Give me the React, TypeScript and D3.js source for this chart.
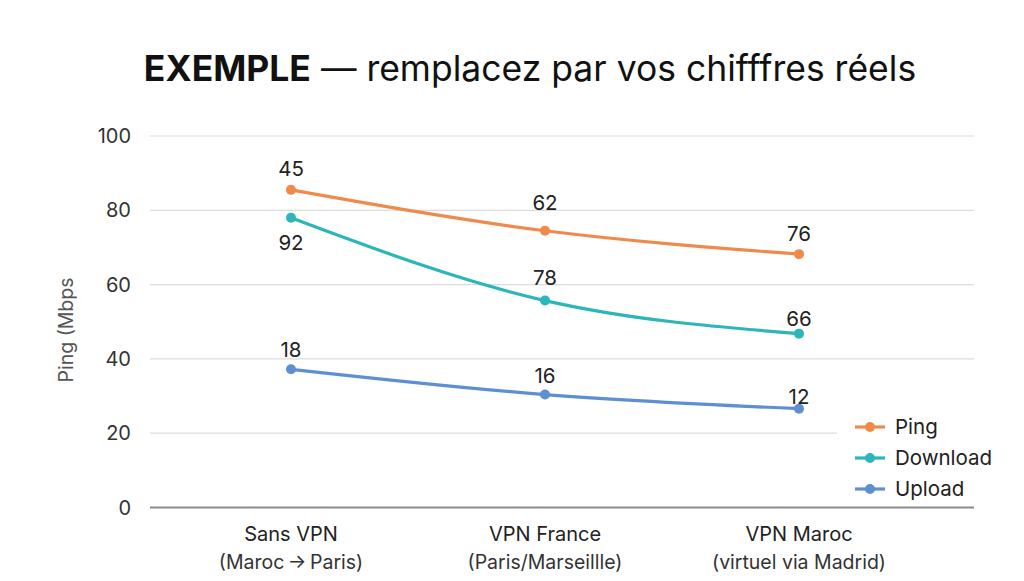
import React from "react";
import * as d3 from "d3";

const categories: string[][] = [
  ["Sans VPN", "(Maroc\u2009→\u2009Paris)"],
  ["VPN France", "(Paris/Marseillle)"],
  ["VPN Maroc", "(virtuel via Madrid)"],
];
const seriesNames = ["Ping", "Download", "Upload"];
const pingValues = [85.5, 74.5, 68.2];
const downloadValues = [78.0, 55.7, 46.8];
const uploadValues = [37.2, 30.4, 26.6];
const pingLabels = ["45", "62", "76"];
const downloadLabels = ["92", "78", "66"];
const uploadLabels = ["18", "16", "12"];
const yTicks = [0, 20, 40, 60, 80, 100];

const W = 1024;
const H = 581;
const FONT = "Inter, 'Liberation Sans', sans-serif";

export default function App() {
  const x = d3.scalePoint<number>().domain([0, 1, 2]).range([291, 799]);
  const y = d3.scaleLinear().domain([0, 100]).range([507.5, 136]);
  const line = d3
    .line<number>()
    .x((_, i) => x(i) as number)
    .y((d) => y(d))
    .curve(d3.curveMonotoneX);

  // label centre offsets (px) relative to point
  const series = [
    { name: seriesNames[0], values: pingValues, labels: pingLabels, color: "#f08a4b", off: [-21, -28, -21] },
    { name: seriesNames[1], values: downloadValues, labels: downloadLabels, color: "#2cb6b9", off: [25, -23, -15] },
    { name: seriesNames[2], values: uploadValues, labels: uploadLabels, color: "#5d8fd2", off: [-20, -19, -12] },
  ];

  return (
    <svg
      width={W}
      height={H}
      style={{ position: "absolute", left: 0, top: 0, background: "#fff" }}
      fontFamily={FONT}
    >
      <rect width={W} height={H} fill="#fff" />
      <text x={530} y={81} textAnchor="middle" fontSize={35.5} fill="#111">
        <tspan fontWeight="bold">EXEMPLE</tspan>
        <tspan> — remplacez par vos chifffres réels</tspan>
      </text>

      {yTicks.map((t) => (
        <g key={t}>
          <line
            x1={150}
            x2={974}
            y1={y(t)}
            y2={y(t)}
            stroke={t === 0 ? "#8a8a8a" : "#dcdcdc"}
            strokeWidth={t === 0 ? 2 : 1.2}
          />
          <text x={131} y={y(t)} dy="0.35em" textAnchor="end" fontSize={20} fill="#333">
            {t}
          </text>
        </g>
      ))}

      <text
        transform={`translate(73,330) rotate(-90)`}
        textAnchor="middle"
        fontSize={19.5}
        fill="#555"
      >
        Ping (Mbps
      </text>

      {categories.map((c, i) => (
        <g key={i}>
          <text x={x(i)} y={541} textAnchor="middle" fontSize={20} fill="#222">
            {c[0]}
          </text>
          <text x={x(i)} y={569} textAnchor="middle" fontSize={19.5} fill="#333">
            {c[1]}
          </text>
        </g>
      ))}

      {series.map((s) => (
        <g key={s.name}>
          <path d={line(s.values) as string} fill="none" stroke={s.color} strokeWidth={3.2} />
          {s.values.map((v, i) => (
            <circle key={i} cx={x(i)} cy={y(v)} r={5} fill={s.color} />
          ))}
          {s.values.map((v, i) => (
            <text
              key={"l" + i}
              x={x(i)}
              y={y(v) + s.off[i]}
              dy="0.36em"
              textAnchor="middle"
              fontSize={20.5}
              fill="#222"
            >
              {s.labels[i]}
            </text>
          ))}
        </g>
      ))}

      <g>
        <rect x={837} y={408} width={150} height={95} fill="#fff" />
        {series.map((s, i) => (
          <g key={s.name} transform={`translate(855,${427 + i * 31})`}>
            <line x1={0} x2={30} y1={0} y2={0} stroke={s.color} strokeWidth={3.2} />
            <circle cx={15} cy={0} r={5} fill={s.color} />
            <text x={40} y={0} dy="0.35em" fontSize={20.5} fill="#222">
              {s.name}
            </text>
          </g>
        ))}
      </g>
    </svg>
  );
}
